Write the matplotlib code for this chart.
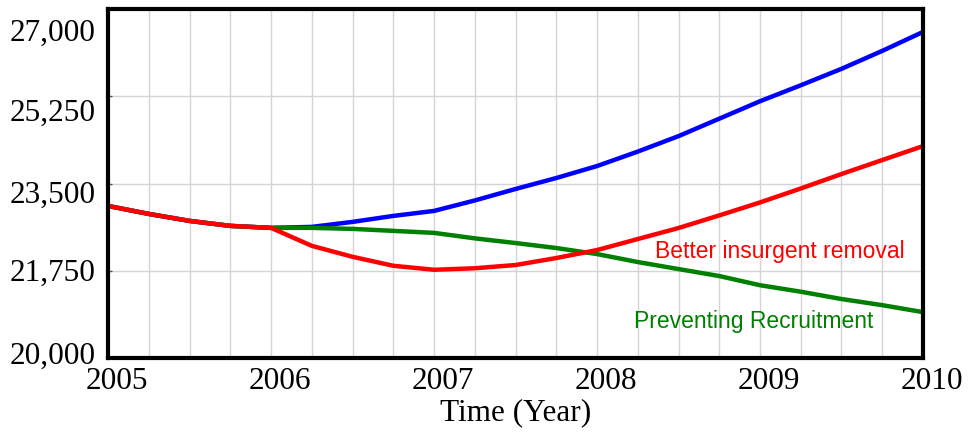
import matplotlib
matplotlib.use("Agg")
import matplotlib.pyplot as plt
import matplotlib.transforms as mtransforms
import numpy as np

# time axis, quarter-year steps
years = np.arange(2005, 2010.01, 0.25)

# shared history 2005-2006 (all runs identical)
base = [23050, 22890, 22750, 22650]

# runs from 2006 to 2010
base_run = [22610, 22630, 22730, 22850, 22950, 23160, 23390, 23610, 23850,
            24140, 24450, 24800, 25150, 25470, 25800, 26160, 26540]
insurgent_removal = [22610, 22250, 22030, 21850, 21770, 21800, 21865, 22005, 22165,
                     22386, 22607, 22860, 23120, 23400, 23690, 23970, 24250]
preventing_recruitment = [22610, 22610, 22590, 22550, 22510, 22400, 22306, 22206, 22085,
                          21925, 21784, 21644, 21460, 21330, 21183, 21060, 20920]

y_ticks = [20000, 21750, 23500, 25250, 27000]
x_ticks = [2005, 2006, 2007, 2008, 2009, 2010]

serif = "Liberation Serif"
sans = "Liberation Sans"

fig = plt.figure(figsize=(9.68, 4.35), dpi=100)
ax = fig.add_axes([0.1116, 0.1747, 0.8419, 0.8023])

ax.plot(years, base + base_run, color="#0000ff", lw=3.2, solid_capstyle="butt")
ax.plot(years, base + preventing_recruitment, color="#008000", lw=3.2, solid_capstyle="butt")
ax.plot(years, base + insurgent_removal, color="#ff0000", lw=3.2, solid_capstyle="butt")

ax.set_xlim(2005, 2010)
ax.set_ylim(20000, 27000)
ax.set_xticks(x_ticks)
ax.set_xticks(np.arange(2005, 2010.01, 0.25), minor=True)
ax.set_yticks(y_ticks)
ax.set_yticklabels([f"{v:,}" for v in y_ticks])

ax.grid(True, which="both", axis="x", color="#d4d4d4", lw=1)
ax.grid(True, which="major", axis="y", color="#d4d4d4", lw=1)
ax.set_axisbelow(True)

for s in ax.spines.values():
    s.set_linewidth(3)
    s.set_color("black")

ax.tick_params(axis="x", which="both", length=0, pad=6)
ax.tick_params(axis="y", length=3, direction="in", width=1, pad=9, color="#555555")
for lab in ax.get_xticklabels() + ax.get_yticklabels():
    lab.set_fontfamily(serif)
    lab.set_fontsize(22.5)

# labels sit slightly off their grid lines, as in the original
for lab in ax.get_xticklabels():
    lab.set_transform(lab.get_transform() +
                      mtransforms.ScaledTranslation(0.09, 0, fig.dpi_scale_trans))
y_shift = [-6, -1.5, 7.5, 13, 20]
for lab, dy in zip(ax.get_yticklabels(), y_shift):
    lab.set_transform(lab.get_transform() +
                      mtransforms.ScaledTranslation(0, -dy / 100, fig.dpi_scale_trans))

ax.set_xlabel("Time (Year)", fontfamily=serif, fontsize=22.5, labelpad=1)

ax.text(2008.356, 22025, "Better insurgent removal", color="#ff0000",
        fontfamily=sans, fontsize=16.5, va="baseline", ha="left")
ax.text(2008.227, 20621, "Preventing Recruitment", color="#008000",
        fontfamily=sans, fontsize=16.5, va="baseline", ha="left")

fig.savefig("out.png", dpi=100)
